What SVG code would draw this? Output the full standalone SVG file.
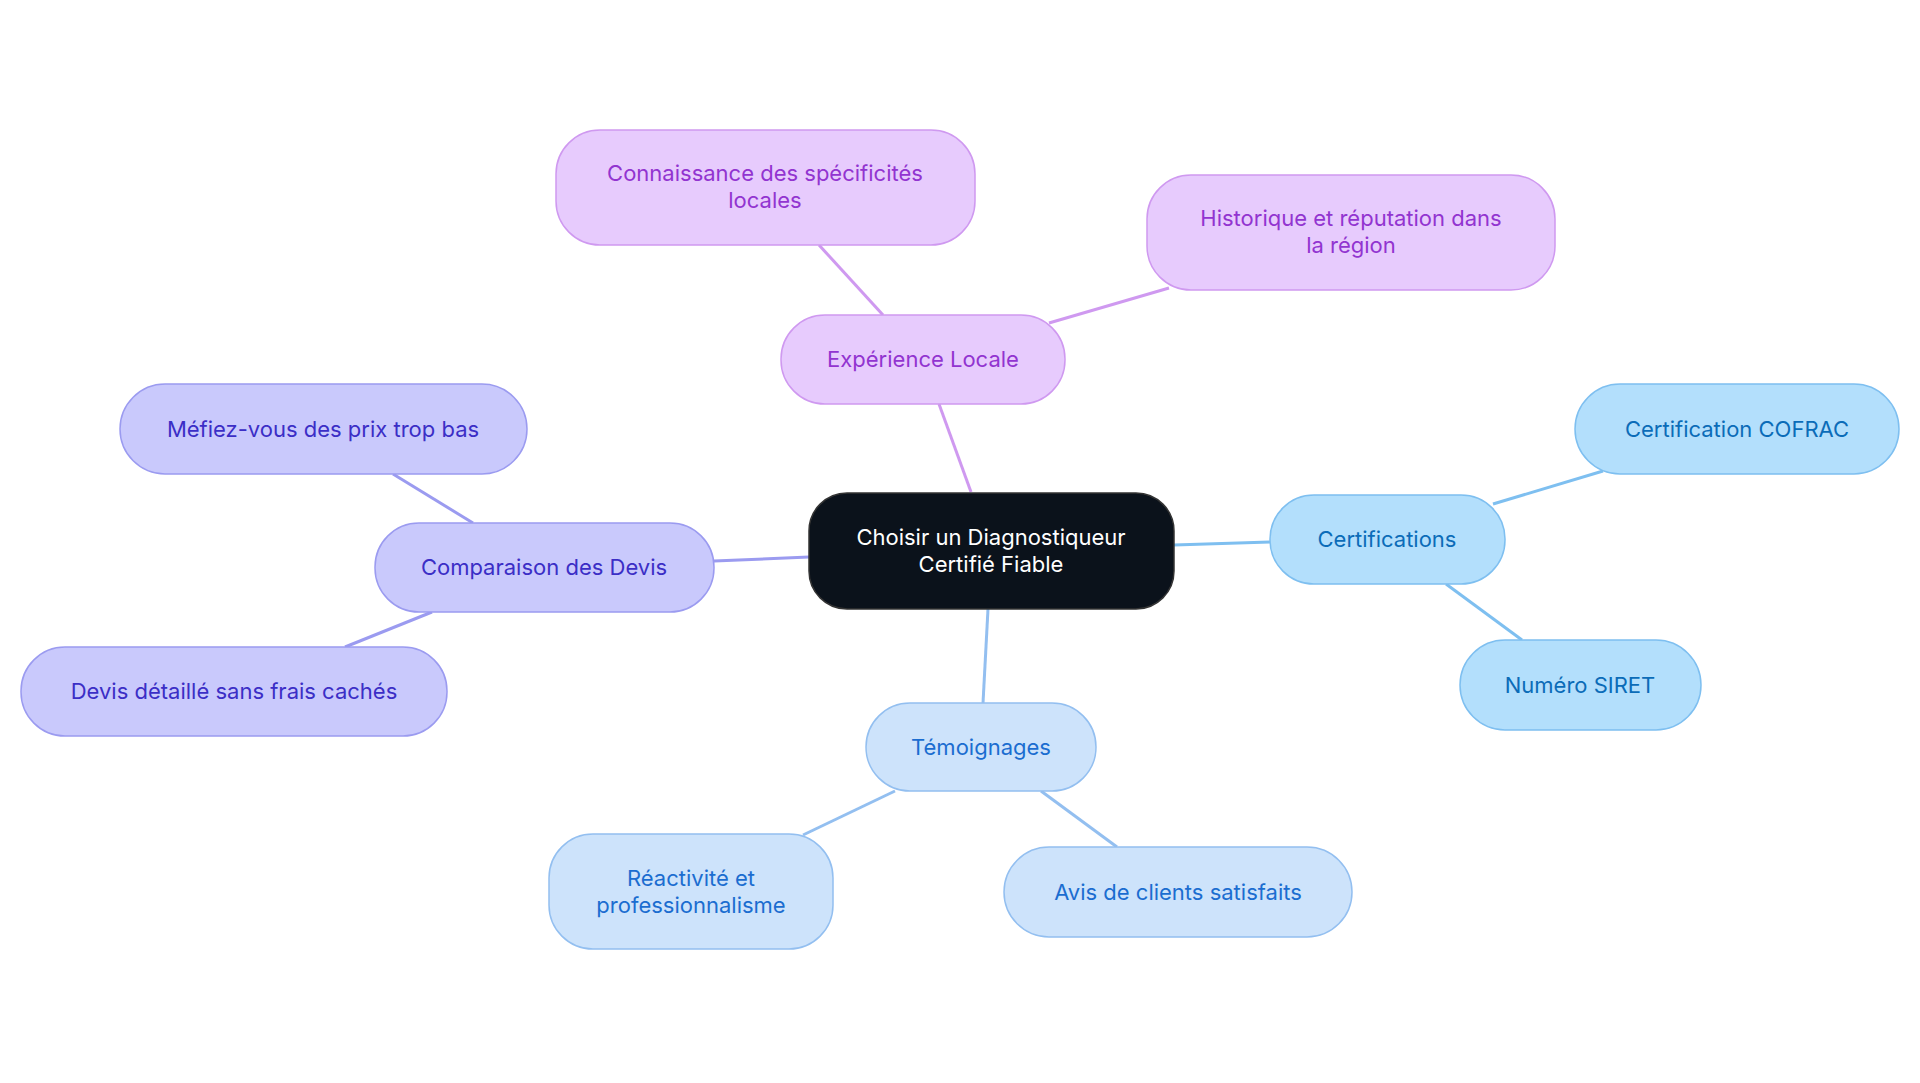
<svg xmlns="http://www.w3.org/2000/svg" width="1920" height="1083" viewBox="0 0 1920 1083">
<style>
text{font-family:Inter,"Noto Sans",sans-serif;font-size:22px;text-anchor:middle;dominant-baseline:central}
.b rect{fill:#b3dffc;stroke:#7ebff0;stroke-width:1.5}.b text{fill:#0b6cb8}
.t rect{fill:#cde3fb;stroke:#93bff0;stroke-width:1.5}.t text{fill:#1b6dd0}
.v rect{fill:#c9c9fc;stroke:#9b9bf0;stroke-width:1.5}.v text{fill:#3b2ec6}
.p rect{fill:#e7cbfd;stroke:#cf99f0;stroke-width:1.5}.p text{fill:#9234d0}
.c rect{fill:#0b121b;stroke:#333;stroke-width:1.5}.c text{fill:#fff}
line{stroke-width:3}
</style>
<rect width="1920" height="1083" fill="#fff"/>
<g id="connectors">
<line x1="971" y1="492" x2="939" y2="404" stroke="#cf99f0"/>
<line x1="883" y1="315" x2="819" y2="245" stroke="#cf99f0"/>
<line x1="1049" y1="323" x2="1169" y2="288" stroke="#cf99f0"/>
<line x1="1174" y1="545" x2="1270" y2="542" stroke="#7ebff0"/>
<line x1="1493" y1="504" x2="1603" y2="471" stroke="#7ebff0"/>
<line x1="1446" y1="584" x2="1522" y2="640" stroke="#7ebff0"/>
<line x1="988" y1="609" x2="983" y2="703" stroke="#93bff0"/>
<line x1="895" y1="791" x2="803" y2="835" stroke="#93bff0"/>
<line x1="1041" y1="791" x2="1117" y2="847" stroke="#93bff0"/>
<line x1="809" y1="557" x2="714" y2="561" stroke="#9b9bf0"/>
<line x1="473" y1="523" x2="393" y2="474" stroke="#9b9bf0"/>
<line x1="432" y1="612" x2="345" y2="647" stroke="#9b9bf0"/>
</g>
<g id="center" class="c"><rect x="809" y="493" width="365" height="116" rx="38"/><text x="991" y="537">Choisir un Diagnostiqueur</text><text x="991" y="564">Certifié Fiable</text></g>
<g id="certifications" class="b"><rect x="1270" y="495" width="235" height="89" rx="44"/><text x="1387" y="539">Certifications</text></g>
<g id="cofrac" class="b"><rect x="1575" y="384" width="324" height="90" rx="45"/><text x="1737" y="429">Certification COFRAC</text></g>
<g id="siret" class="b"><rect x="1460" y="640" width="241" height="90" rx="45"/><text x="1580" y="685">Numéro SIRET</text></g>
<g id="temoignages" class="t"><rect x="866" y="703" width="230" height="88" rx="44"/><text x="981" y="747">Témoignages</text></g>
<g id="reactivite" class="t"><rect x="549" y="834" width="284" height="115" rx="44"/><text x="691" y="878">Réactivité et</text><text x="691" y="905">professionnalisme</text></g>
<g id="avis" class="t"><rect x="1004" y="847" width="348" height="90" rx="45"/><text x="1178" y="892">Avis de clients satisfaits</text></g>
<g id="comparaison" class="v"><rect x="375" y="523" width="339" height="89" rx="44"/><text x="544" y="567">Comparaison des Devis</text></g>
<g id="mefiez" class="v"><rect x="120" y="384" width="407" height="90" rx="45"/><text x="323" y="429">Méfiez-vous des prix trop bas</text></g>
<g id="devis" class="v"><rect x="21" y="647" width="426" height="89" rx="44"/><text x="234" y="691">Devis détaillé sans frais cachés</text></g>
<g id="experience" class="p"><rect x="781" y="315" width="284" height="89" rx="44"/><text x="923" y="359">Expérience Locale</text></g>
<g id="connaissance" class="p"><rect x="556" y="130" width="419" height="115" rx="44"/><text x="765" y="173">Connaissance des spécificités</text><text x="765" y="200">locales</text></g>
<g id="historique" class="p"><rect x="1147" y="175" width="408" height="115" rx="44"/><text x="1351" y="218">Historique et réputation dans</text><text x="1351" y="245">la région</text></g>
</svg>
